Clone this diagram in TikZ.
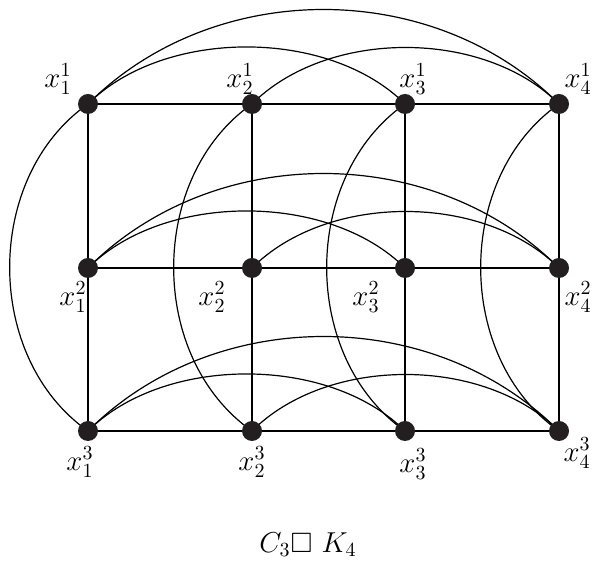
\documentclass[tikz,border=0pt]{standalone}
\usepackage{amssymb}
\begin{document}
\begin{tikzpicture}[x=0.5pt,y=0.5pt,
  vtx/.style={circle,fill=dotcol,draw=none,minimum size=10pt,inner sep=0pt},
  lab/.style={inner sep=0pt,font=\fontsize{14}{17}\selectfont},
  edge/.style={line width=0.6pt,black},
  rowarc/.style={edge,out=45,in=135},
  colarc/.style={edge,out=215,in=145}]
\definecolor{dotcol}{HTML}{231F20}
\useasboundingbox (0,0) rectangle (592,565);
% columns X: 88,252,405,559 ; rows y: 461,297,134
\foreach \c/\X in {1/88,2/252,3/405,4/559}{
  \foreach \r/\Y in {1/461,2/297,3/134}{
    \coordinate (p\c\r) at (\X,\Y);
  }
}
% straight edges
\foreach \r in {1,2,3}{
  \draw[edge] (p1\r) -- (p2\r) -- (p3\r) -- (p4\r);
}
\foreach \c in {1,2,3,4}{
  \draw[edge] (p\c1) -- (p\c2) -- (p\c3);
}
% row arcs
\foreach \r in {1,2,3}{
  \draw[rowarc,looseness=0.87] (p1\r) to (p3\r);
  \draw[rowarc,looseness=0.97] (p1\r) to (p4\r);
  \draw[rowarc,looseness=0.89] (p2\r) to (p4\r);
}
% column arcs
\foreach \c in {1,2,3,4}{
  \draw[colarc] (p\c1) to (p\c3);
}
% vertices
\foreach \c in {1,2,3,4}{
  \foreach \r in {1,2,3}{
    \node[vtx] (v\c\r) at (p\c\r) {};
  }
}
% labels
\node[lab] (l11) at ([shift={(-30,25)}]v11) {$x_1^1$};
\node[lab] (l21) at ([shift={(-12,25)}]v21) {$x_2^1$};
\node[lab] (l31) at ([shift={(8,25)}]v31) {$x_3^1$};
\node[lab] (l41) at ([shift={(19,25)}]v41) {$x_4^1$};
\node[lab] (l12) at ([shift={(-15,-29)}]v12) {$x_1^2$};
\node[lab] (l22) at ([shift={(-40,-29)}]v22) {$x_2^2$};
\node[lab] (l32) at ([shift={(-39,-29)}]v32) {$x_3^2$};
\node[lab] (l42) at ([shift={(19,-29)}]v42) {$x_4^2$};
\node[lab] (l13) at ([shift={(-8,-31)}]v13) {$x_1^3$};
\node[lab] (l23) at ([shift={(0,-31)}]v23) {$x_2^3$};
\node[lab] (l33) at ([shift={(8,-33)}]v33) {$x_3^3$};
\node[lab] (l43) at ([shift={(18,-22)}]v43) {$x_4^3$};
\node[lab] (cap) at (308,20) {$C_3\square\ K_4$};
\end{tikzpicture}
\end{document}
